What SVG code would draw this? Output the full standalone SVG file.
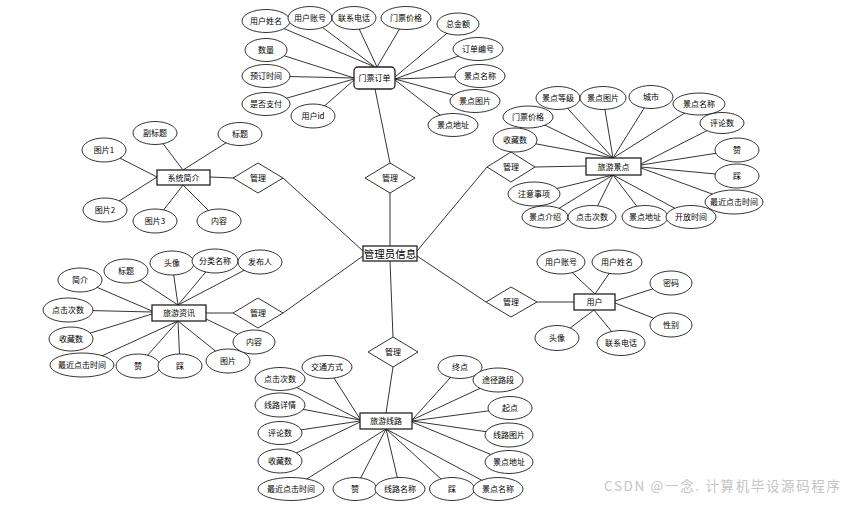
<svg xmlns="http://www.w3.org/2000/svg" width="849" height="509" viewBox="0 0 849 509">
<style>
.bg{fill:#fff}
.e{fill:#fff;stroke:#000;stroke-width:0.8}
.b{fill:#fff;stroke:#222;stroke-width:1.3}
.d{fill:#fff;stroke:#000;stroke-width:0.8}
.c line{stroke:#000;stroke-width:0.8}
text{font-family:"Noto Sans CJK SC","Noto Sans",sans-serif;font-size:8px;fill:#000;text-anchor:middle}
.big{font-size:10.5px}
.wm{font-size:13.5px;fill:#c4c4c4;text-anchor:start}
</style>
<rect class="bg" x="0" y="0" width="849" height="509"/>
<g id="connectors" class="c">
<!-- 门票订单 -->
<line x1="266" y1="21" x2="375" y2="67"/>
<line x1="310" y1="18" x2="375" y2="67"/>
<line x1="354" y1="18" x2="377" y2="67"/>
<line x1="406" y1="18" x2="377" y2="67"/>
<line x1="458" y1="24" x2="395" y2="77"/>
<line x1="478" y1="49" x2="395" y2="79"/>
<line x1="480" y1="76" x2="395" y2="79"/>
<line x1="475" y1="101" x2="395" y2="79"/>
<line x1="453" y1="125" x2="395" y2="80"/>
<line x1="266" y1="50" x2="354" y2="78"/>
<line x1="266" y1="76" x2="354" y2="78"/>
<line x1="266" y1="104" x2="354" y2="79"/>
<line x1="313" y1="116" x2="354" y2="80"/>
<line x1="375" y1="89" x2="390" y2="163"/>
<!-- 管理员信息 relations -->
<line x1="390" y1="193" x2="390" y2="246"/>
<line x1="283" y1="178" x2="363" y2="251"/>
<line x1="210" y1="177" x2="233" y2="178"/>
<line x1="283" y1="313" x2="363" y2="256"/>
<line x1="206" y1="313" x2="233" y2="313"/>
<line x1="487" y1="167" x2="417" y2="251"/>
<line x1="535" y1="167" x2="586" y2="166"/>
<line x1="486" y1="302" x2="417" y2="256"/>
<line x1="537" y1="302" x2="574" y2="302"/>
<line x1="390" y1="261" x2="393" y2="337"/>
<line x1="393" y1="367" x2="386" y2="413"/>
<!-- 旅游景点 -->
<line x1="558" y1="98" x2="613" y2="158"/>
<line x1="603" y1="98" x2="613" y2="158"/>
<line x1="651" y1="97" x2="613" y2="158"/>
<line x1="699" y1="104" x2="613" y2="158"/>
<line x1="528" y1="117" x2="613" y2="158"/>
<line x1="515" y1="140" x2="613" y2="158"/>
<line x1="722" y1="123" x2="641" y2="164"/>
<line x1="737" y1="150" x2="641" y2="165"/>
<line x1="737" y1="176" x2="641" y2="167"/>
<line x1="734" y1="202" x2="641" y2="168"/>
<line x1="534" y1="194" x2="613" y2="175"/>
<line x1="545" y1="217" x2="613" y2="175"/>
<line x1="592" y1="217" x2="613" y2="175"/>
<line x1="645" y1="217" x2="613" y2="175"/>
<line x1="691" y1="217" x2="613" y2="175"/>
<!-- 系统简介 -->
<line x1="155" y1="133" x2="183" y2="170"/>
<line x1="240" y1="134" x2="183" y2="170"/>
<line x1="104" y1="150" x2="157" y2="177"/>
<line x1="105" y1="210" x2="157" y2="177"/>
<line x1="155" y1="221" x2="183" y2="185"/>
<line x1="219" y1="221" x2="183" y2="185"/>
<!-- 旅游资讯 -->
<line x1="80" y1="280" x2="152" y2="311"/>
<line x1="126" y1="271" x2="178" y2="305"/>
<line x1="172" y1="263" x2="178" y2="305"/>
<line x1="215" y1="261" x2="178" y2="305"/>
<line x1="260" y1="262" x2="178" y2="305"/>
<line x1="68" y1="310" x2="152" y2="312"/>
<line x1="71" y1="339" x2="152" y2="314"/>
<line x1="82" y1="365" x2="178" y2="321"/>
<line x1="138" y1="366" x2="178" y2="321"/>
<line x1="180" y1="366" x2="178" y2="321"/>
<line x1="228" y1="361" x2="178" y2="321"/>
<line x1="254" y1="342" x2="206" y2="319"/>
<!-- 用户 -->
<line x1="561" y1="262" x2="595" y2="294"/>
<line x1="617" y1="262" x2="595" y2="294"/>
<line x1="671" y1="283" x2="615" y2="301"/>
<line x1="671" y1="325" x2="615" y2="303"/>
<line x1="557" y1="338" x2="594" y2="310"/>
<line x1="621" y1="343" x2="594" y2="310"/>
<!-- 旅游线路 -->
<line x1="327" y1="367" x2="360" y2="419"/>
<line x1="280" y1="379" x2="360" y2="420"/>
<line x1="280" y1="405" x2="360" y2="420"/>
<line x1="280" y1="433" x2="360" y2="421"/>
<line x1="280" y1="461" x2="360" y2="422"/>
<line x1="291" y1="489" x2="386" y2="429"/>
<line x1="355" y1="489" x2="386" y2="429"/>
<line x1="400" y1="489" x2="386" y2="429"/>
<line x1="452" y1="489" x2="386" y2="429"/>
<line x1="498" y1="489" x2="386" y2="429"/>
<line x1="460" y1="367" x2="412" y2="420"/>
<line x1="498" y1="380" x2="412" y2="420"/>
<line x1="510" y1="408" x2="412" y2="421"/>
<line x1="509" y1="435" x2="412" y2="421"/>
<line x1="509" y1="462" x2="412" y2="422"/>
</g>

<!-- Entities -->
<g id="admin"><rect class="b" x="363" y="246" width="54" height="15"/><text class="big" x="390" y="257.5">管理员信息</text></g>
<g id="ticket-order"><rect class="b" x="354" y="67" width="41" height="22" rx="4"/><text x="374.5" y="81">门票订单</text></g>
<g id="scenic-spot"><rect class="b" x="586" y="158" width="55" height="17"/><text x="613.5" y="169.5">旅游景点</text></g>
<g id="system-intro"><rect class="b" x="157" y="170" width="53" height="15"/><text x="183.5" y="180.5">系统简介</text></g>
<g id="travel-news"><rect class="b" x="152" y="305" width="54" height="16"/><text x="179" y="316">旅游资讯</text></g>
<g id="user"><rect class="b" x="574" y="294" width="41" height="16"/><text x="594.5" y="305">用户</text></g>
<g id="travel-route"><rect class="b" x="360" y="413" width="52" height="16"/><text x="386" y="424">旅游线路</text></g>

<!-- Relations -->
<g id="rel-top"><polygon class="d" points="390,163 415,178 390,193 365,178"/><text x="390" y="181">管理</text></g>
<g id="rel-intro"><polygon class="d" points="258,163 283,178 258,193 233,178"/><text x="258" y="181">管理</text></g>
<g id="rel-news"><polygon class="d" points="258,298 283,313 258,328 233,313"/><text x="258" y="316">管理</text></g>
<g id="rel-spot"><polygon class="d" points="511,152 535,167 511,182 487,167"/><text x="511" y="170">管理</text></g>
<g id="rel-user"><polygon class="d" points="511,287 537,302 511,317 486,302"/><text x="511" y="305">管理</text></g>
<g id="rel-route"><polygon class="d" points="393,337 418,352 393,367 368,352"/><text x="393" y="355">管理</text></g>

<!-- 门票订单 attributes -->
<g id="to-a1"><ellipse class="e" cx="266" cy="21" rx="24" ry="11.5"/><text x="266" y="24">用户姓名</text></g>
<g id="to-a2"><ellipse class="e" cx="310" cy="18" rx="22" ry="11.5"/><text x="310" y="21">用户账号</text></g>
<g id="to-a3"><ellipse class="e" cx="354" cy="18" rx="22" ry="11.5"/><text x="354" y="21">联系电话</text></g>
<g id="to-a4"><ellipse class="e" cx="406" cy="18" rx="25" ry="11.5"/><text x="406" y="21">门票价格</text></g>
<g id="to-a5"><ellipse class="e" cx="458" cy="24" rx="21" ry="11"/><text x="458" y="27">总金额</text></g>
<g id="to-a6"><ellipse class="e" cx="478" cy="49" rx="25" ry="11.5"/><text x="478" y="52">订单编号</text></g>
<g id="to-a7"><ellipse class="e" cx="480" cy="76" rx="25" ry="11.5"/><text x="480" y="79">景点名称</text></g>
<g id="to-a8"><ellipse class="e" cx="475" cy="101" rx="25" ry="11.5"/><text x="475" y="104">景点图片</text></g>
<g id="to-a9"><ellipse class="e" cx="453" cy="125" rx="25" ry="11.5"/><text x="453" y="128">景点地址</text></g>
<g id="to-a10"><ellipse class="e" cx="266" cy="50" rx="21" ry="11.5"/><text x="266" y="53">数量</text></g>
<g id="to-a11"><ellipse class="e" cx="266" cy="76" rx="24" ry="11.5"/><text x="266" y="79">预订时间</text></g>
<g id="to-a12"><ellipse class="e" cx="266" cy="104" rx="24" ry="11.5"/><text x="266" y="107">是否支付</text></g>
<g id="to-a13"><ellipse class="e" cx="313" cy="116" rx="22" ry="12"/><text x="313" y="119">用户id</text></g>

<!-- 旅游景点 attributes -->
<g id="ss-a1"><ellipse class="e" cx="558" cy="98" rx="22" ry="11.5"/><text x="558" y="101">景点等级</text></g>
<g id="ss-a2"><ellipse class="e" cx="603" cy="98" rx="23" ry="11.5"/><text x="603" y="101">景点图片</text></g>
<g id="ss-a3"><ellipse class="e" cx="651" cy="97" rx="22" ry="11.5"/><text x="651" y="100">城市</text></g>
<g id="ss-a4"><ellipse class="e" cx="699" cy="104" rx="26" ry="11"/><text x="699" y="107">景点名称</text></g>
<g id="ss-a5"><ellipse class="e" cx="722" cy="123" rx="22" ry="10.5"/><text x="722" y="126">评论数</text></g>
<g id="ss-a6"><ellipse class="e" cx="528" cy="117" rx="25" ry="11"/><text x="528" y="120">门票价格</text></g>
<g id="ss-a7"><ellipse class="e" cx="515" cy="140" rx="22" ry="12"/><text x="515" y="143">收藏数</text></g>
<g id="ss-a8"><ellipse class="e" cx="737" cy="150" rx="22" ry="12"/><text x="737" y="153">赞</text></g>
<g id="ss-a9"><ellipse class="e" cx="737" cy="176" rx="22" ry="12"/><text x="737" y="179">踩</text></g>
<g id="ss-a10"><ellipse class="e" cx="734" cy="202" rx="29" ry="12"/><text x="734" y="205">最近点击时间</text></g>
<g id="ss-a11"><ellipse class="e" cx="534" cy="194" rx="26" ry="12"/><text x="534" y="197">注意事项</text></g>
<g id="ss-a12"><ellipse class="e" cx="545" cy="217" rx="23" ry="11"/><text x="545" y="220">景点介绍</text></g>
<g id="ss-a13"><ellipse class="e" cx="592" cy="217" rx="24" ry="11.5"/><text x="592" y="220">点击次数</text></g>
<g id="ss-a14"><ellipse class="e" cx="645" cy="217" rx="23" ry="11.5"/><text x="645" y="220">景点地址</text></g>
<g id="ss-a15"><ellipse class="e" cx="691" cy="217" rx="25" ry="11.5"/><text x="691" y="220">开放时间</text></g>

<!-- 系统简介 attributes -->
<g id="si-a1"><ellipse class="e" cx="155" cy="133" rx="22" ry="11.5"/><text x="155" y="136">副标题</text></g>
<g id="si-a2"><ellipse class="e" cx="240" cy="134" rx="22" ry="11.5"/><text x="240" y="137">标题</text></g>
<g id="si-a3"><ellipse class="e" cx="104" cy="150" rx="22" ry="12"/><text x="104" y="153">图片1</text></g>
<g id="si-a4"><ellipse class="e" cx="105" cy="210" rx="22" ry="12"/><text x="105" y="213">图片2</text></g>
<g id="si-a5"><ellipse class="e" cx="155" cy="221" rx="22" ry="12"/><text x="155" y="224">图片3</text></g>
<g id="si-a6"><ellipse class="e" cx="219" cy="221" rx="22" ry="12"/><text x="219" y="224">内容</text></g>

<!-- 旅游资讯 attributes -->
<g id="tn-a1"><ellipse class="e" cx="80" cy="280" rx="22" ry="12"/><text x="80" y="283">简介</text></g>
<g id="tn-a2"><ellipse class="e" cx="126" cy="271" rx="22" ry="12"/><text x="126" y="274">标题</text></g>
<g id="tn-a3"><ellipse class="e" cx="172" cy="263" rx="22" ry="12"/><text x="172" y="266">头像</text></g>
<g id="tn-a4"><ellipse class="e" cx="215" cy="261" rx="23" ry="12"/><text x="215" y="264">分类名称</text></g>
<g id="tn-a5"><ellipse class="e" cx="260" cy="262" rx="22" ry="12"/><text x="260" y="265">发布人</text></g>
<g id="tn-a6"><ellipse class="e" cx="68" cy="310" rx="25" ry="12"/><text x="68" y="313">点击次数</text></g>
<g id="tn-a7"><ellipse class="e" cx="71" cy="339" rx="22" ry="12"/><text x="71" y="342">收藏数</text></g>
<g id="tn-a8"><ellipse class="e" cx="82" cy="365" rx="32" ry="12"/><text x="82" y="368">最近点击时间</text></g>
<g id="tn-a9"><ellipse class="e" cx="138" cy="366" rx="22" ry="12"/><text x="138" y="369">赞</text></g>
<g id="tn-a10"><ellipse class="e" cx="180" cy="366" rx="22" ry="12"/><text x="180" y="369">踩</text></g>
<g id="tn-a11"><ellipse class="e" cx="228" cy="361" rx="22" ry="12"/><text x="228" y="364">图片</text></g>
<g id="tn-a12"><ellipse class="e" cx="254" cy="342" rx="21" ry="12"/><text x="254" y="345">内容</text></g>

<!-- 用户 attributes -->
<g id="us-a1"><ellipse class="e" cx="561" cy="262" rx="24" ry="12"/><text x="561" y="265">用户账号</text></g>
<g id="us-a2"><ellipse class="e" cx="617" cy="262" rx="25" ry="12"/><text x="617" y="265">用户姓名</text></g>
<g id="us-a3"><ellipse class="e" cx="671" cy="283" rx="21" ry="12"/><text x="671" y="286">密码</text></g>
<g id="us-a4"><ellipse class="e" cx="671" cy="325" rx="21" ry="12"/><text x="671" y="328">性别</text></g>
<g id="us-a5"><ellipse class="e" cx="557" cy="338" rx="22" ry="12.5"/><text x="557" y="341">头像</text></g>
<g id="us-a6"><ellipse class="e" cx="621" cy="343" rx="24" ry="12.5"/><text x="621" y="346">联系电话</text></g>

<!-- 旅游线路 attributes -->
<g id="tr-a1"><ellipse class="e" cx="327" cy="367" rx="25" ry="11.5"/><text x="327" y="370">交通方式</text></g>
<g id="tr-a2"><ellipse class="e" cx="280" cy="379" rx="25" ry="11.5"/><text x="280" y="382">点击次数</text></g>
<g id="tr-a3"><ellipse class="e" cx="280" cy="405" rx="25" ry="12"/><text x="280" y="408">线路详情</text></g>
<g id="tr-a4"><ellipse class="e" cx="280" cy="433" rx="22" ry="11.5"/><text x="280" y="436">评论数</text></g>
<g id="tr-a5"><ellipse class="e" cx="280" cy="461" rx="22" ry="12"/><text x="280" y="464">收藏数</text></g>
<g id="tr-a6"><ellipse class="e" cx="291" cy="489" rx="33" ry="11.5"/><text x="291" y="492">最近点击时间</text></g>
<g id="tr-a7"><ellipse class="e" cx="355" cy="489" rx="22" ry="11.5"/><text x="355" y="492">赞</text></g>
<g id="tr-a8"><ellipse class="e" cx="400" cy="489" rx="25" ry="11.5"/><text x="400" y="492">线路名称</text></g>
<g id="tr-a9"><ellipse class="e" cx="452" cy="489" rx="22.5" ry="11.5"/><text x="452" y="492">踩</text></g>
<g id="tr-a10"><ellipse class="e" cx="498" cy="489" rx="25" ry="11.5"/><text x="498" y="492">景点名称</text></g>
<g id="tr-a11"><ellipse class="e" cx="460" cy="367" rx="22" ry="11.5"/><text x="460" y="370">终点</text></g>
<g id="tr-a12"><ellipse class="e" cx="498" cy="380" rx="25" ry="12"/><text x="498" y="383">途径路段</text></g>
<g id="tr-a13"><ellipse class="e" cx="510" cy="408" rx="22" ry="11.5"/><text x="510" y="411">起点</text></g>
<g id="tr-a14"><ellipse class="e" cx="509" cy="435" rx="24" ry="12"/><text x="509" y="438">线路图片</text></g>
<g id="tr-a15"><ellipse class="e" cx="509" cy="462" rx="24" ry="11.5"/><text x="509" y="465">景点地址</text></g>

<text class="wm" x="604" y="491" textLength="236" lengthAdjust="spacing">CSDN @一念. 计算机毕设源码程序</text>
</svg>
